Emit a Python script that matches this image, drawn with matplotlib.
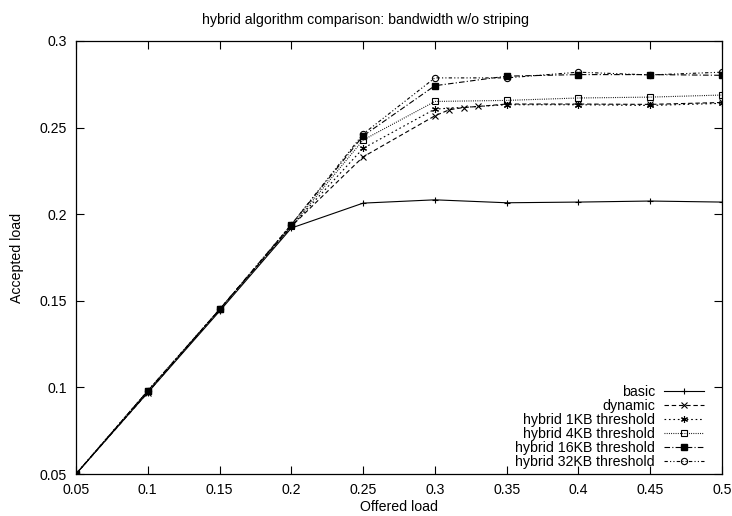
import numpy as np
import matplotlib
matplotlib.use("Agg")
import matplotlib.pyplot as plt

plt.rcParams['font.family'] = ['Liberation Sans', 'DejaVu Sans']
plt.rcParams['font.size'] = 10.2

# offered load (x) and accepted load (y) per series
x_main = [0.05, 0.1, 0.15, 0.2, 0.25, 0.3, 0.35, 0.4, 0.45, 0.5]
x_dynamic = [0.05, 0.1, 0.15, 0.2, 0.25, 0.3, 0.31, 0.32, 0.33, 0.35, 0.4, 0.45, 0.5]

basic = [0.05, 0.097, 0.144, 0.192, 0.2064, 0.2083, 0.2066, 0.207, 0.2076, 0.207]
dynamic = [0.05, 0.097, 0.145, 0.193, 0.2331, 0.2568, 0.2603, 0.2616, 0.2622,
           0.2636, 0.2636, 0.2634, 0.2645]
hybrid_1kb = [0.05, 0.098, 0.145, 0.193, 0.238, 0.2607, 0.2632, 0.2632, 0.2628, 0.264]
hybrid_4kb = [0.05, 0.098, 0.145, 0.193, 0.2428, 0.2651, 0.2657, 0.2671, 0.2676, 0.2688]
hybrid_16kb = [0.05, 0.098, 0.145, 0.194, 0.2452, 0.2742, 0.2797, 0.2806, 0.2806, 0.2802]
hybrid_32kb = [0.05, 0.098, 0.145, 0.194, 0.2463, 0.2787, 0.2787, 0.282, 0.2804, 0.282]

xticks = [0.05, 0.1, 0.15, 0.2, 0.25, 0.3, 0.35, 0.4, 0.45, 0.5]
yticks = [0.05, 0.1, 0.15, 0.2, 0.25, 0.3]

fig = plt.figure(figsize=(7.32, 5.16), dpi=100)
ax = fig.add_axes([76 / 732, 1 - 474 / 516, 646 / 732, 433 / 516])

lw = 0.8
ax.plot(x_main, basic, color='black', lw=lw, ls='-', marker='+', ms=5,
        mew=0.8, label='basic')
ax.plot(x_dynamic, dynamic, color='black', lw=lw, ls=(0, (4, 2.5)), marker='x',
        ms=4, mew=0.8, label='dynamic')
ax.plot(x_main, hybrid_1kb, color='black', lw=lw, ls=(0, (1.5, 2.5)),
        marker=(6, 2, 0), ms=5, mew=0.8, label='hybrid 1KB threshold')
ax.plot(x_main, hybrid_4kb, color='black', lw=lw, ls=(0, (0.8, 1.2)), marker='s',
        ms=4.3, mfc='none', mew=0.8, label='hybrid 4KB threshold')
ax.plot(x_main, hybrid_16kb, color='black', lw=lw, ls=(0, (5, 2, 1, 2)), marker='s',
        ms=4.8, mfc='black', label='hybrid 16KB threshold')
ax.plot(x_main, hybrid_32kb, color='black', lw=lw, ls=(0, (3, 2, 1, 2, 1, 2)),
        marker='o', ms=4.5, mfc='none', mew=0.8, label='hybrid 32KB threshold')

ax.set_xlim(0.05, 0.5)
ax.set_ylim(0.05, 0.3)
ax.set_xticks(xticks)
ax.set_xticklabels([f'{t:g}' for t in xticks])
ax.set_yticks(yticks)
ax.set_yticklabels([f'{t:g}' for t in yticks])
ax.tick_params(direction='in', length=6, width=0.8, top=True, right=True)
ax.tick_params(axis='x', pad=6.5)
ax.tick_params(axis='y', pad=6.5)
for s in ax.spines.values():
    s.set_linewidth(0.9)

ax.set_xlabel('Offered load', va='center')
ax.xaxis.set_label_coords(0.5, -(507 - 474) / 433)
ax.set_ylabel('Accepted load', va='center')
ax.yaxis.set_label_coords(-(76 - 17) / 646, 0.5)
fig.text(0.5, 1 - 20 / 516, 'hybrid algorithm comparison: bandwidth w/o striping',
         ha='center', va='center')

ax.legend(loc='lower right', bbox_to_anchor=(0.972, 0.012), frameon=False,
          markerfirst=False, handlelength=2.82, labelspacing=0.0,
          handletextpad=0.64, borderaxespad=0, borderpad=0)

fig.savefig('out.png', dpi=100)
